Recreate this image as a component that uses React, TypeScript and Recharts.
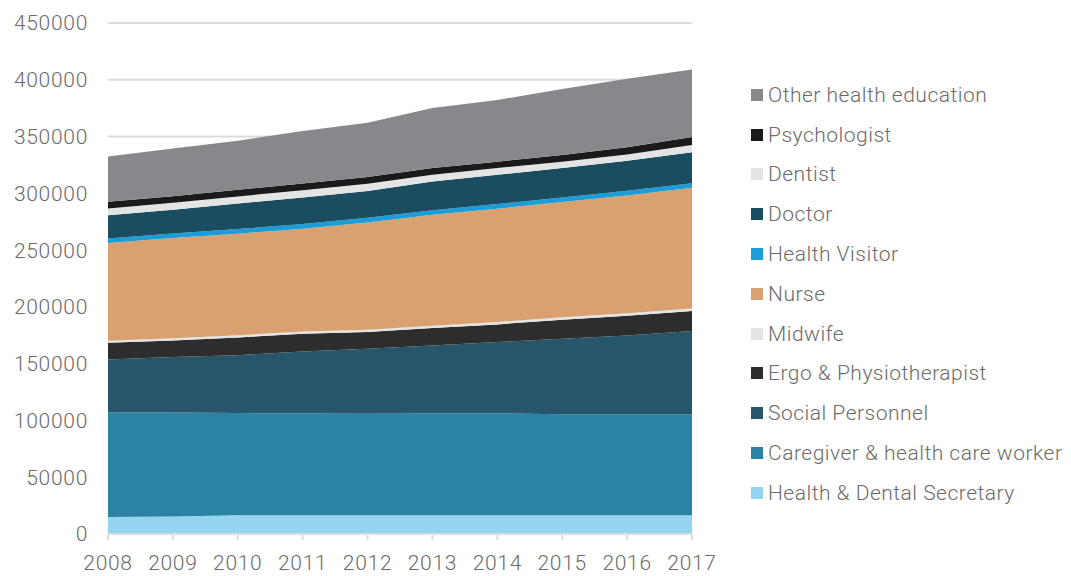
import { AreaChart, Area, XAxis, YAxis, CartesianGrid } from "recharts";

// Health staff by education, 2008-2017 (stacked)
const YEARS = ["2008", "2009", "2010", "2011", "2012", "2013", "2014", "2015", "2016", "2017"];

const SECRETARY = [15000, 15500, 16500, 16500, 16500, 16500, 16500, 16500, 16500, 16500];
const CAREGIVER = [92300, 91500, 90000, 89700, 89300, 89700, 89800, 89000, 89000, 89000];
const SOCIAL = [46400, 48800, 51000, 54600, 57400, 59900, 62700, 66500, 69400, 73200];
const ERGO = [14700, 14700, 15600, 15600, 14600, 15200, 15600, 16700, 17400, 17600];
const MIDWIFE = [1800, 1800, 1900, 1900, 2000, 2000, 2100, 2100, 2200, 2200];
const NURSE = [86000, 88300, 89500, 90600, 94600, 97900, 99800, 101500, 103700, 106500];
const HEALTH_VISITOR = [4000, 4000, 4000, 4000, 4200, 4000, 4000, 4000, 4000, 3900];
const DOCTOR = [20600, 20900, 22500, 23400, 23500, 25200, 25800, 25900, 26400, 27300];
const DENTIST = [5800, 6100, 6300, 6400, 6400, 6000, 5900, 5700, 5600, 6300];
const PSYCHOLOGIST = [5900, 5900, 5900, 5900, 5900, 5900, 5700, 5900, 6400, 7000];
const OTHER = [39900, 42000, 43200, 46400, 47800, 52900, 54300, 58100, 60200, 59600];

const Y_TICKS = [0, 50000, 100000, 150000, 200000, 250000, 300000, 350000, 400000, 450000];

// bottom to top
const SERIES = [
  { key: "secretary", name: "Health & Dental Secretary", values: SECRETARY, color: "#95d4ef" },
  { key: "caregiver", name: "Caregiver & health care worker", values: CAREGIVER, color: "#2a82a5" },
  { key: "social", name: "Social Personnel", values: SOCIAL, color: "#27566b" },
  { key: "ergo", name: "Ergo & Physiotherapist", values: ERGO, color: "#2d2d2d" },
  { key: "midwife", name: "Midwife", values: MIDWIFE, color: "#e4e4e4" },
  { key: "nurse", name: "Nurse", values: NURSE, color: "#d8a16f" },
  { key: "healthVisitor", name: "Health Visitor", values: HEALTH_VISITOR, color: "#1c9dd8" },
  { key: "doctor", name: "Doctor", values: DOCTOR, color: "#1a4d5f" },
  { key: "dentist", name: "Dentist", values: DENTIST, color: "#e4e4e4" },
  { key: "psychologist", name: "Psychologist", values: PSYCHOLOGIST, color: "#1a1a1a" },
  { key: "other", name: "Other health education", values: OTHER, color: "#88878c" },
];

const FONT = "Roboto, 'Open Sans', sans-serif";
const TEXT = "#6b6b6b";
const tickStyle = { fill: TEXT, fontSize: 21, fontWeight: 300, fontFamily: FONT, letterSpacing: 0.7 };

const data = YEARS.map((year, i) => {
  const row: Record<string, string | number> = { year };
  SERIES.forEach((s) => {
    row[s.key] = s.values[i];
  });
  return row;
});

export default function App() {
  return (
    <div style={{ position: "absolute", left: 0, top: 0, width: 1071, height: 576, background: "#fff", fontFamily: FONT }}>
      <AreaChart width={1071} height={576} data={data} margin={{ top: 23, right: 379, bottom: 12, left: 0 }}>
        <CartesianGrid vertical={false} stroke="#dcdcdc" strokeWidth={2} />
        <XAxis
          dataKey="year"
          height={30}
          stroke="#dcdcdc"
          strokeWidth={2}
          tickSize={6}
          tickMargin={15}
          tick={tickStyle}
          interval={0}
        />
        <YAxis
          width={108}
          domain={[0, 450000]}
          ticks={Y_TICKS}
          axisLine={false}
          tickLine={false}
          tickSize={6}
          tickMargin={14}
          tick={tickStyle}
        />
        {SERIES.map((s) => (
          <Area
            key={s.key}
            type="linear"
            dataKey={s.key}
            name={s.name}
            stackId="1"
            stroke="none"
            fill={s.color}
            fillOpacity={1}
            isAnimationActive={false}
          />
        ))}
      </AreaChart>
      <div style={{ position: "absolute", left: 751, top: 75 }}>
        {[...SERIES].reverse().map((s) => (
          <div key={s.key} style={{ display: "flex", alignItems: "center", height: 39.8 }}>
            <span style={{ width: 12, height: 12, background: s.color, marginRight: 5, flex: "none" }} />
            <span style={{ color: TEXT, fontSize: 21, fontWeight: 300, letterSpacing: 0.5, whiteSpace: "nowrap" }}>
              {s.name}
            </span>
          </div>
        ))}
      </div>
    </div>
  );
}
